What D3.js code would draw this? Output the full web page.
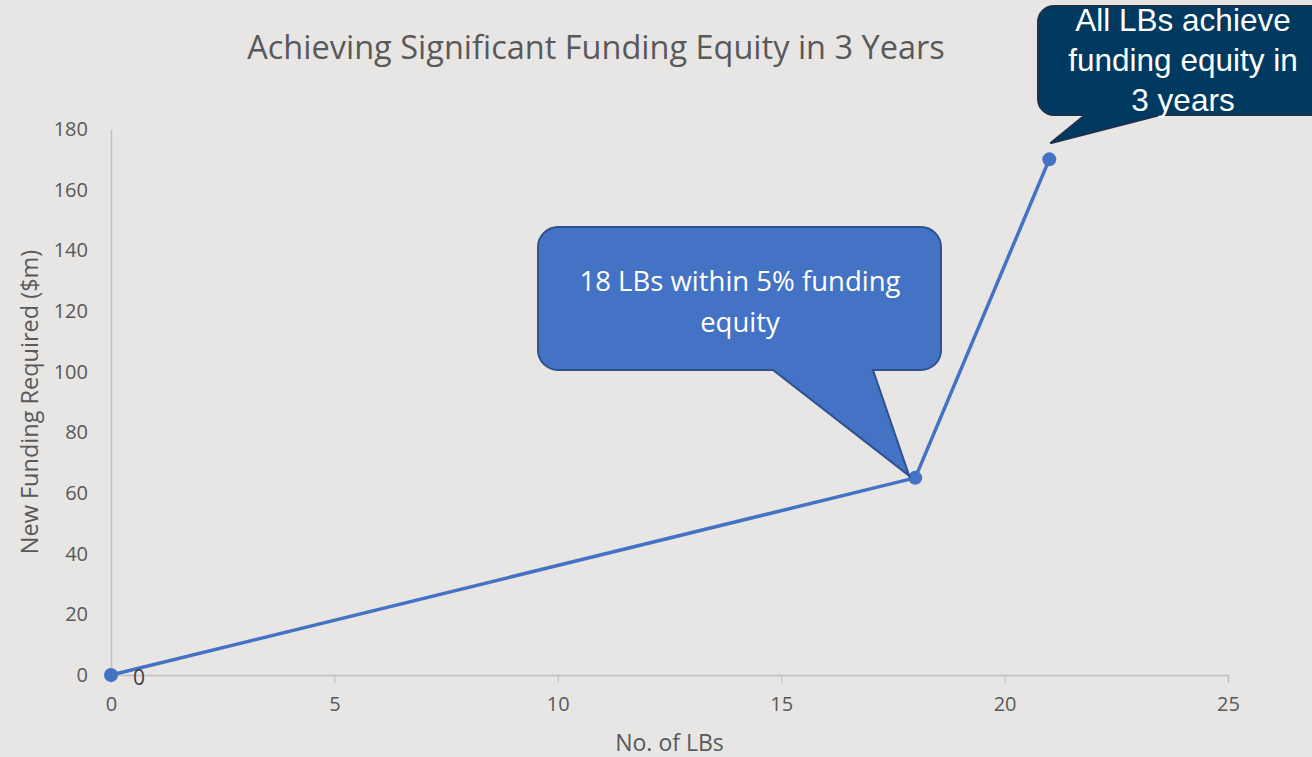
<!DOCTYPE html>
<html>
<head>
<meta charset="utf-8">
<script src="https://cdn.jsdelivr.net/npm/d3@7"></script>
<style>
  body { margin: 0; background: #e7e6e4; }
  svg { display: block; }
</style>
</head>
<body>
<script>
// chart data
var lbCounts = [0, 18, 21];
var fundingNeeded = [0, 65, 170];
var xTicks = [0, 5, 10, 15, 20, 25];
var yTicks = [0, 20, 40, 60, 80, 100, 120, 140, 160, 180];
var chartTitle = "Achieving Significant Funding Equity in 3 Years";
var xTitle = "No. of LBs";
var yTitle = "New Funding Required ($m)";
var callout1Lines = ["18 LBs within 5% funding", "equity"];
var callout2Lines = ["All LBs achieve", "funding equity in", "3 years"];

var W = 1312, H = 757;
var svg = d3.select("body").append("svg").attr("width", W).attr("height", H);
svg.append("rect").attr("width", W).attr("height", H).attr("fill", "#e7e6e4");

var x = d3.scaleLinear().domain([0, 25]).range([111, 1228]);
var y = d3.scaleLinear().domain([0, 180]).range([675, 129]);
var font = "'Open Sans', sans-serif";
var grey = "#595959";

// title
svg.append("text")
  .attr("x", 596).attr("y", 59)
  .attr("text-anchor", "middle")
  .style("font-family", font).style("font-size", "32.5px")
  .attr("fill", grey)
  .text(chartTitle);

// y axis
var yAxis = svg.append("g")
  .attr("transform", "translate(" + x(0) + ",0)")
  .call(d3.axisLeft(y).tickValues(yTicks).tickSize(0).tickPadding(23));
yAxis.select(".domain").attr("stroke", "#bfbfbf").attr("stroke-width", 1.5);
yAxis.selectAll("text").style("font-family", font).style("font-size", "20px").attr("fill", grey);

// x axis
var xAxis = svg.append("g")
  .attr("transform", "translate(0," + y(0) + ")")
  .call(d3.axisBottom(x).tickValues(xTicks).tickSize(8).tickSizeOuter(8).tickPadding(14));
xAxis.select(".domain").attr("stroke", "#bfbfbf").attr("stroke-width", 1.5);
xAxis.selectAll(".tick line").attr("stroke", "#bfbfbf");
xAxis.selectAll("text").style("font-family", font).style("font-size", "20px").attr("fill", grey);

// axis titles
svg.append("text")
  .attr("x", x(12.5)).attr("y", 751)
  .attr("text-anchor", "middle")
  .style("font-family", font).style("font-size", "23px")
  .attr("fill", grey)
  .text(xTitle);

svg.append("text")
  .attr("transform", "translate(38," + y(90) + ") rotate(-90)")
  .attr("text-anchor", "middle")
  .style("font-family", font).style("font-size", "23.5px")
  .attr("fill", grey)
  .text(yTitle);

// series
var pts = lbCounts.map(function(d, i) { return [d, fundingNeeded[i]]; });
var line = d3.line().x(function(d) { return x(d[0]); }).y(function(d) { return y(d[1]); });

svg.append("path")
  .datum(pts)
  .attr("d", line)
  .attr("fill", "none")
  .attr("stroke", "#4472c4")
  .attr("stroke-width", 3.5);

svg.selectAll("circle.pt")
  .data(pts)
  .enter().append("circle")
  .attr("class", "pt")
  .attr("cx", function(d) { return x(d[0]); })
  .attr("cy", function(d) { return y(d[1]); })
  .attr("r", 7)
  .attr("fill", "#4472c4");

// data label on the first point
svg.append("text")
  .attr("x", x(pts[0][0]) + 28).attr("y", y(pts[0][1]) + 10)
  .attr("text-anchor", "middle")
  .style("font-family", font).style("font-size", "21px")
  .attr("fill", "#404040")
  .text(pts[0][1]);

// callout shapes: rounded box with a wedge pointing at a data point
function callout(box, tail, tip, r, fill, stroke) {
  var L = box[0], T = box[1], R = box[2], B = box[3];
  var p = d3.path();
  p.moveTo(L + r, T);
  p.lineTo(R - r, T);
  p.arcTo(R, T, R, T + r, r);
  p.lineTo(R, B - r);
  p.arcTo(R, B, R - r, B, r);
  p.lineTo(tail[1], B);
  p.lineTo(tip[0], tip[1]);
  p.lineTo(tail[0], B);
  p.lineTo(L + r, B);
  p.arcTo(L, B, L, B - r, r);
  p.lineTo(L, T + r);
  p.arcTo(L, T, L + r, T, r);
  p.closePath();
  svg.append("path")
    .attr("d", p.toString())
    .attr("fill", fill)
    .attr("stroke", stroke)
    .attr("stroke-width", 2);
}

var tip1 = [x(lbCounts[1]) - 6, y(fundingNeeded[1]) - 2];
callout([538, 227, 941, 370], [773, 873], tip1, 20, "#4472c4", "#2f528f");
svg.append("g").selectAll("text")
  .data(callout1Lines)
  .enter().append("text")
  .attr("x", 740)
  .attr("y", function(d, i) { return 291 + i * 41; })
  .attr("text-anchor", "middle")
  .style("font-family", font).style("font-size", "27.5px")
  .attr("fill", "#ffffff")
  .text(function(d) { return d; });

var tip2 = [x(lbCounts[2]) + 1, y(fundingNeeded[2]) - 16];
callout([1038, 6, 1330, 115], [1085, 1160], tip2, 16, "#013a60", "#1c3050");
svg.append("g").selectAll("text")
  .data(callout2Lines)
  .enter().append("text")
  .attr("x", 1183)
  .attr("y", function(d, i) { return 31 + i * 40; })
  .attr("text-anchor", "middle")
  .style("font-family", "'Liberation Sans', Arial, sans-serif").style("font-size", "31.5px")
  .attr("fill", "#ffffff")
  .text(function(d) { return d; });
</script>
</body>
</html>
